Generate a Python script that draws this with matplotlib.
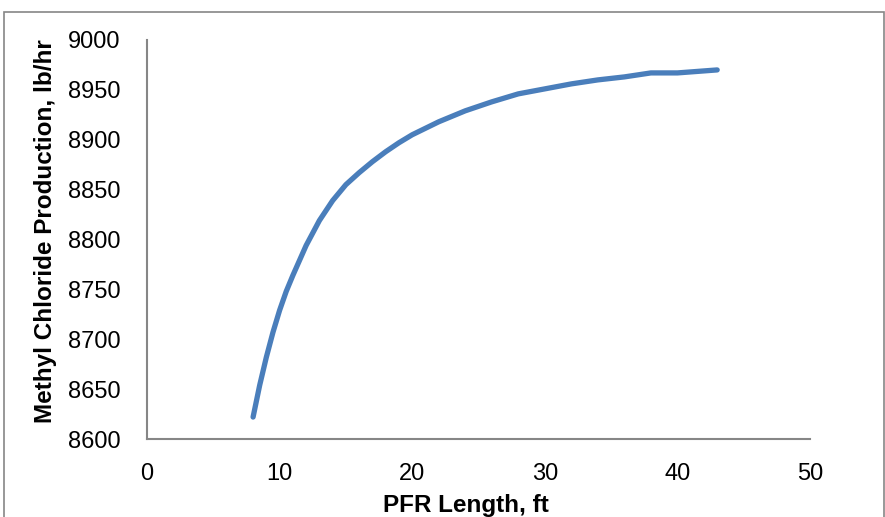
import numpy as np
import matplotlib.pyplot as plt
from matplotlib.patches import Rectangle

# PFR length (ft) vs methyl chloride production (lb/hr)
length = [8, 8.5, 9, 9.5, 10, 10.5, 11, 12, 13, 14, 15, 16, 17, 18, 19, 20, 22, 24, 26, 28, 30, 32, 34, 36, 38, 40, 42, 43]
production = [8622, 8654, 8682, 8707, 8729, 8748, 8764, 8794, 8819, 8839, 8855, 8867, 8878, 8888, 8897, 8905, 8918, 8929, 8938, 8946, 8951, 8956, 8960, 8963, 8967, 8967, 8969, 8970]

xticks = [0, 10, 20, 30, 40, 50]
yticks = [8600, 8650, 8700, 8750, 8800, 8850, 8900, 8950, 9000]

W, H = 885, 517
fig = plt.figure(figsize=(W / 100, H / 100), dpi=100)
plt.rcParams['font.family'] = ['Liberation Sans', 'DejaVu Sans']

ax = fig.add_axes([147 / W, (H - 439) / H, (810 - 147) / W, (439 - 40) / H])
ax.plot(length, production, color='#4a7ebb', lw=3.8, solid_capstyle='round', solid_joinstyle='round')

ax.set_xlim(0, 50)
ax.set_ylim(8600, 9000)
ax.set_xticks(xticks)
ax.set_yticks(yticks)
ax.tick_params(length=0, labelsize=17, colors='black')
ax.tick_params(axis='x', pad=17)
ax.tick_params(axis='y', pad=19)
for s in ['top', 'right']:
    ax.spines[s].set_visible(False)
for s in ['left', 'bottom']:
    ax.spines[s].set_color('#868686')
    ax.spines[s].set_linewidth(1.5)

ax.set_xlabel('PFR Length, ft', fontsize=17.5, fontweight='bold')
ax.set_ylabel('Methyl Chloride Production, lb/hr', fontsize=17.5, fontweight='bold')
ax.xaxis.set_label_coords((466 - 147) / 663, -(494 - 439) / 399)
ax.yaxis.set_label_coords(-(147 - 57) / 663, (439 - 231) / 399)

# outer chart border
fig.patches.append(Rectangle((4 / W, -0.01), (W - 5) / W, (H - 12) / H + 0.01,
                             transform=fig.transFigure, fill=False,
                             edgecolor='#868686', lw=1.2))

fig.savefig('out.png', dpi=100)
